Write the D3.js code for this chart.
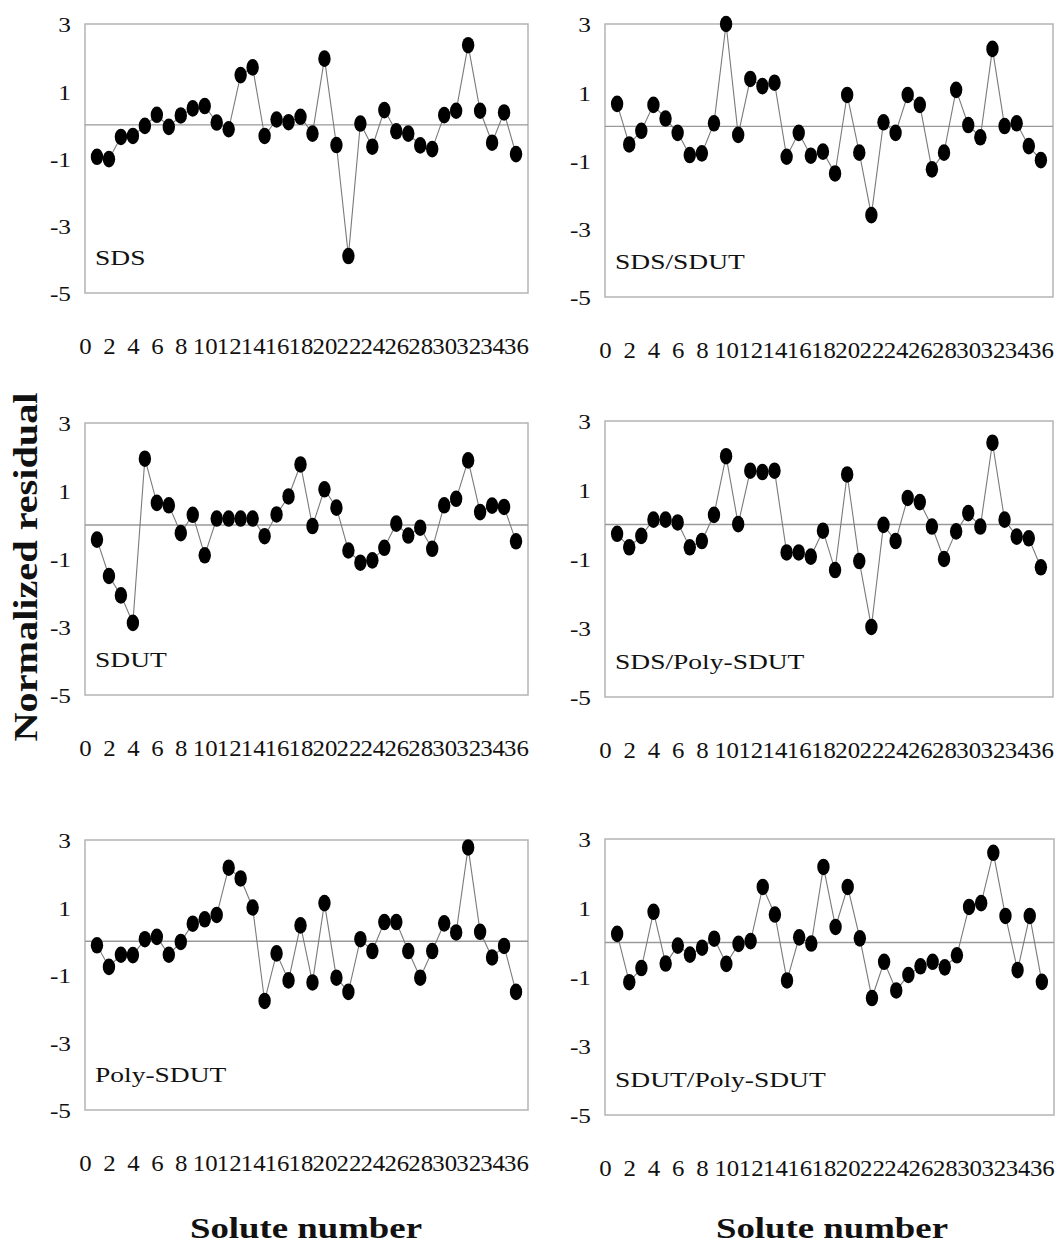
<!DOCTYPE html>
<html>
<head>
<meta charset="utf-8">
<script src="https://cdn.jsdelivr.net/npm/d3@7"></script>
<style>
  html, body { margin: 0; padding: 0; background: #fff; }
  svg { display: block; }
  text { font-family: "Liberation Serif", "Times New Roman", serif; fill: #111; }
</style>
</head>
<body>
<svg id="chart" width="1061" height="1243"></svg>
<script>
// Solute numbers (x categories)
const solutes = [1,2,3,4,5,6,7,8,9,10,11,12,13,14,15,16,17,18,19,20,21,22,23,24,25,26,27,28,29,30,31,32,33,34,35,36];

// Normalized residuals per system
const sds = [-0.95,-1.02,-0.36,-0.33,-0.03,0.30,-0.06,0.28,0.49,0.56,0.07,-0.13,1.48,1.71,-0.33,0.16,0.08,0.24,-0.26,1.97,-0.60,-3.90,0.04,-0.65,0.44,-0.19,-0.26,-0.61,-0.72,0.29,0.42,2.37,0.42,-0.53,0.37,-0.87];
const sdsSdut = [0.66,-0.53,-0.13,0.63,0.23,-0.19,-0.84,-0.79,0.09,3.00,-0.25,1.39,1.18,1.28,-0.89,-0.19,-0.86,-0.74,-1.38,0.92,-0.77,-2.60,0.12,-0.19,0.92,0.63,-1.26,-0.77,1.07,0.04,-0.32,2.27,0.01,0.09,-0.58,-0.99];
const sdut = [-0.43,-1.50,-2.07,-2.88,1.95,0.65,0.58,-0.24,0.30,-0.89,0.19,0.19,0.19,0.19,-0.33,0.31,0.84,1.78,-0.03,1.05,0.51,-0.75,-1.11,-1.04,-0.67,0.04,-0.31,-0.08,-0.70,0.58,0.77,1.90,0.38,0.57,0.53,-0.48];
const sdsPolySdut = [-0.27,-0.66,-0.33,0.14,0.14,0.06,-0.66,-0.48,0.28,1.98,0.01,1.56,1.52,1.56,-0.81,-0.81,-0.93,-0.18,-1.32,1.45,-1.06,-2.97,-0.01,-0.48,0.77,0.65,-0.06,-1.00,-0.20,0.33,-0.06,2.37,0.14,-0.35,-0.40,-1.24];
const polySdut = [-0.12,-0.76,-0.40,-0.41,0.06,0.13,-0.40,-0.02,0.52,0.65,0.78,2.18,1.86,1.00,-1.77,-0.36,-1.16,0.47,-1.22,1.13,-1.08,-1.50,0.06,-0.29,0.57,0.57,-0.29,-1.08,-0.29,0.53,0.26,2.78,0.28,-0.48,-0.14,-1.50];
const sdutPolySdut = [0.25,-1.15,-0.74,0.89,-0.61,-0.09,-0.35,-0.15,0.11,-0.62,-0.04,0.04,1.61,0.81,-1.10,0.15,-0.03,2.19,0.45,1.61,0.12,-1.61,-0.56,-1.39,-0.94,-0.69,-0.56,-0.72,-0.37,1.03,1.14,2.60,0.77,-0.80,0.77,-1.14];

// Panel titles, in reading order
const panelNames = ["SDS", "SDS/SDUT", "SDUT", "SDS/Poly-SDUT", "Poly-SDUT", "SDUT/Poly-SDUT"];
const panelSeries = [sds, sdsSdut, sdut, sdsPolySdut, polySdut, sdutPolySdut];

// Axis ticks
const yTicks = [3, 1, -1, -3, -5];
const xTicks = [0, 2, 4, 6, 8, 10, 12, 14, 16, 18, 20, 22, 24, 26, 28, 30, 32, 34, 36];
const yDomain = [-5, 3];
const xDomain = [0, 37];

const yTitle = "Normalized residual";
const xTitle = "Solute number";

// Plot-area boxes for the 3 x 2 grid
const boxes = [
  { left: 85,  top: 24,  right: 528,  bottom: 293 },
  { left: 605, top: 24,  right: 1053, bottom: 297 },
  { left: 85,  top: 423, right: 528,  bottom: 695 },
  { left: 605, top: 421, right: 1053, bottom: 697 },
  { left: 85,  top: 840, right: 528,  bottom: 1110 },
  { left: 605, top: 839, right: 1054, bottom: 1115 }
];

const serif = "'Liberation Serif', 'Times New Roman', serif";
const svg = d3.select("#chart");

panelSeries.forEach((values, i) => {
  const b = boxes[i];
  const x = d3.scaleLinear().domain(xDomain).range([b.left, b.right]);
  const y = d3.scaleLinear().domain(yDomain).range([b.bottom, b.top]);
  const g = svg.append("g").attr("class", "panel");

  // plot-area frame
  g.append("rect")
    .attr("x", b.left).attr("y", b.top)
    .attr("width", b.right - b.left).attr("height", b.bottom - b.top)
    .attr("fill", "none").attr("stroke", "#b4b4b4").attr("stroke-width", 1.5);

  // zero reference line
  g.append("line")
    .attr("x1", b.left).attr("x2", b.right)
    .attr("y1", y(0)).attr("y2", y(0))
    .attr("stroke", "#9a9a9a").attr("stroke-width", 1.3);

  // y axis labels
  const yAxis = g.append("g")
    .attr("transform", `translate(${b.left},0)`)
    .call(d3.axisLeft(y).tickValues(yTicks).tickSize(0).tickFormat(d => String(d)));
  yAxis.select(".domain").remove();
  yAxis.selectAll("text")
    .attr("x", -14 / 1.15).attr("dy", "0.36em")
    .attr("transform", "scale(1.15,1)")
    .style("font-size", "22px")
    .style("font-family", serif)
    .attr("fill", "#111");

  // x axis labels, well below the plot area
  const xAxis = g.append("g")
    .attr("transform", `translate(0,${b.bottom})`)
    .call(d3.axisBottom(x).tickValues(xTicks).tickSize(0).tickFormat(d => String(d)));
  xAxis.select(".domain").remove();
  xAxis.selectAll("text")
    .attr("x", 0).attr("y", 61).attr("dy", 0)
    .attr("transform", "scale(1.08,1)")
    .style("font-size", "23px")
    .style("font-family", serif)
    .attr("fill", "#111");

  // connecting line
  const line = d3.line()
    .x((d, k) => x(solutes[k]))
    .y(d => y(d));
  g.append("path")
    .datum(values)
    .attr("d", line)
    .attr("fill", "none")
    .attr("stroke", "#7a7a7a")
    .attr("stroke-width", 1.1);

  // markers
  g.selectAll("ellipse")
    .data(values)
    .join("ellipse")
    .attr("cx", (d, k) => x(solutes[k]))
    .attr("cy", d => y(d))
    .attr("rx", 6.2)
    .attr("ry", 8.3)
    .attr("fill", "#000");

  // panel label
  g.append("text")
    .attr("transform", `translate(${b.left + 10},${b.bottom - 28}) scale(1.25,1)`)
    .style("font-size", "22px")
    .text(panelNames[i]);
});

// y axis title
svg.append("text")
  .attr("transform", "translate(37,567) rotate(-90)")
  .attr("text-anchor", "middle")
  .attr("textLength", 349)
  .attr("lengthAdjust", "spacingAndGlyphs")
  .style("font-size", "34px")
  .style("font-weight", "bold")
  .text(yTitle);

// x axis titles, one per column
[306, 832].forEach(cx => {
  svg.append("text")
    .attr("x", cx - 116).attr("y", 1238)
    .attr("textLength", 232)
    .attr("lengthAdjust", "spacingAndGlyphs")
    .style("font-size", "29px")
    .style("font-weight", "bold")
    .text(xTitle);
});
</script>
</body>
</html>
